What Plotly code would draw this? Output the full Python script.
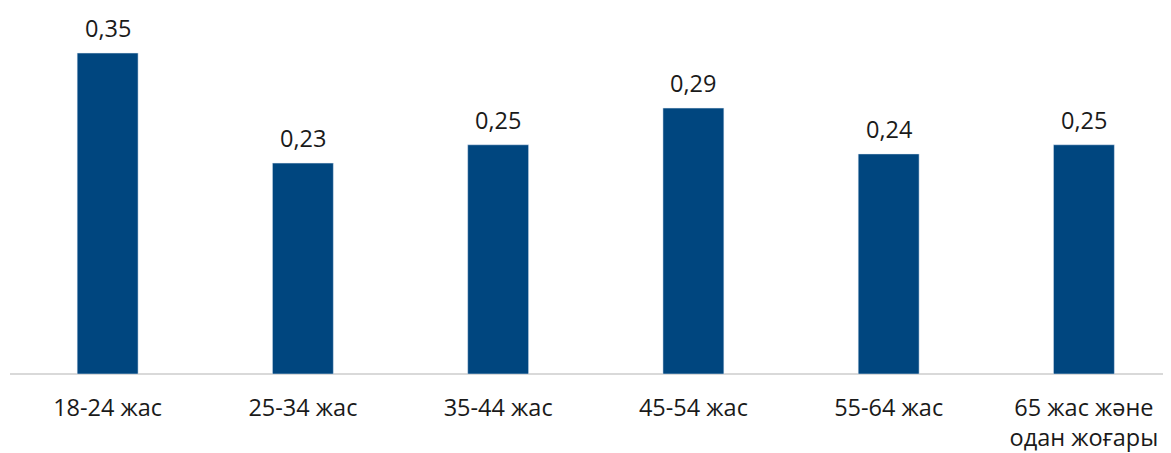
import plotly.graph_objects as go

# ─────────────────────────────────────────────────────────────────────────────
# Données
# ─────────────────────────────────────────────────────────────────────────────
categories = ["18-24 жас", "25-34 жас", "35-44 жас", "45-54 жас",
              "55-64 жас", "65 жас және<br>одан жоғары"]
values = [0.35, 0.23, 0.25, 0.29, 0.24, 0.25]

BAR_COLOR = "#00467F"
FONT = "Open Sans"


def fmt(v):
    return f"{v:.2f}".replace(".", ",")


fig = go.Figure(go.Bar(
    x            = list(range(len(categories))),
    y            = values,
    marker_color = BAR_COLOR,
    hoverinfo    = "skip",
))

for i, v in enumerate(values):
    fig.add_annotation(
        x=i, y=v, text=fmt(v), showarrow=False,
        yanchor="middle", yshift=25,
        font=dict(family=FONT, size=23.5, color="#1a1a1a"),
    )

# la page HTML ajoute une marge de 8 px autour du graphique
fig.update_layout(
    width        = 1163,
    height       = 445,
    margin       = dict(l=2, r=0, t=17, b=79),
    plot_bgcolor = "white",
    paper_bgcolor= "white",
    bargap       = 0.688,
    showlegend   = False,
    font         = dict(family=FONT, size=23.5, color="#1a1a1a"),
)
fig.update_xaxes(
    tickmode   = "array",
    tickvals   = list(range(len(categories))),
    ticktext   = categories,
    range      = [-0.5, 5.446],
    showgrid   = False,
    zeroline   = False,
    showline   = False,
    ticks      = "",
    ticklabelstandoff = 17,
    automargin = False,
)
fig.update_yaxes(
    range         = [0, 0.3806],
    visible       = True,
    showticklabels= False,
    showgrid      = False,
    zeroline      = True,
    zerolinecolor = "#d9d9d9",
    zerolinewidth = 1.5,
    automargin    = False,
)

fig.write_html("out.html")
